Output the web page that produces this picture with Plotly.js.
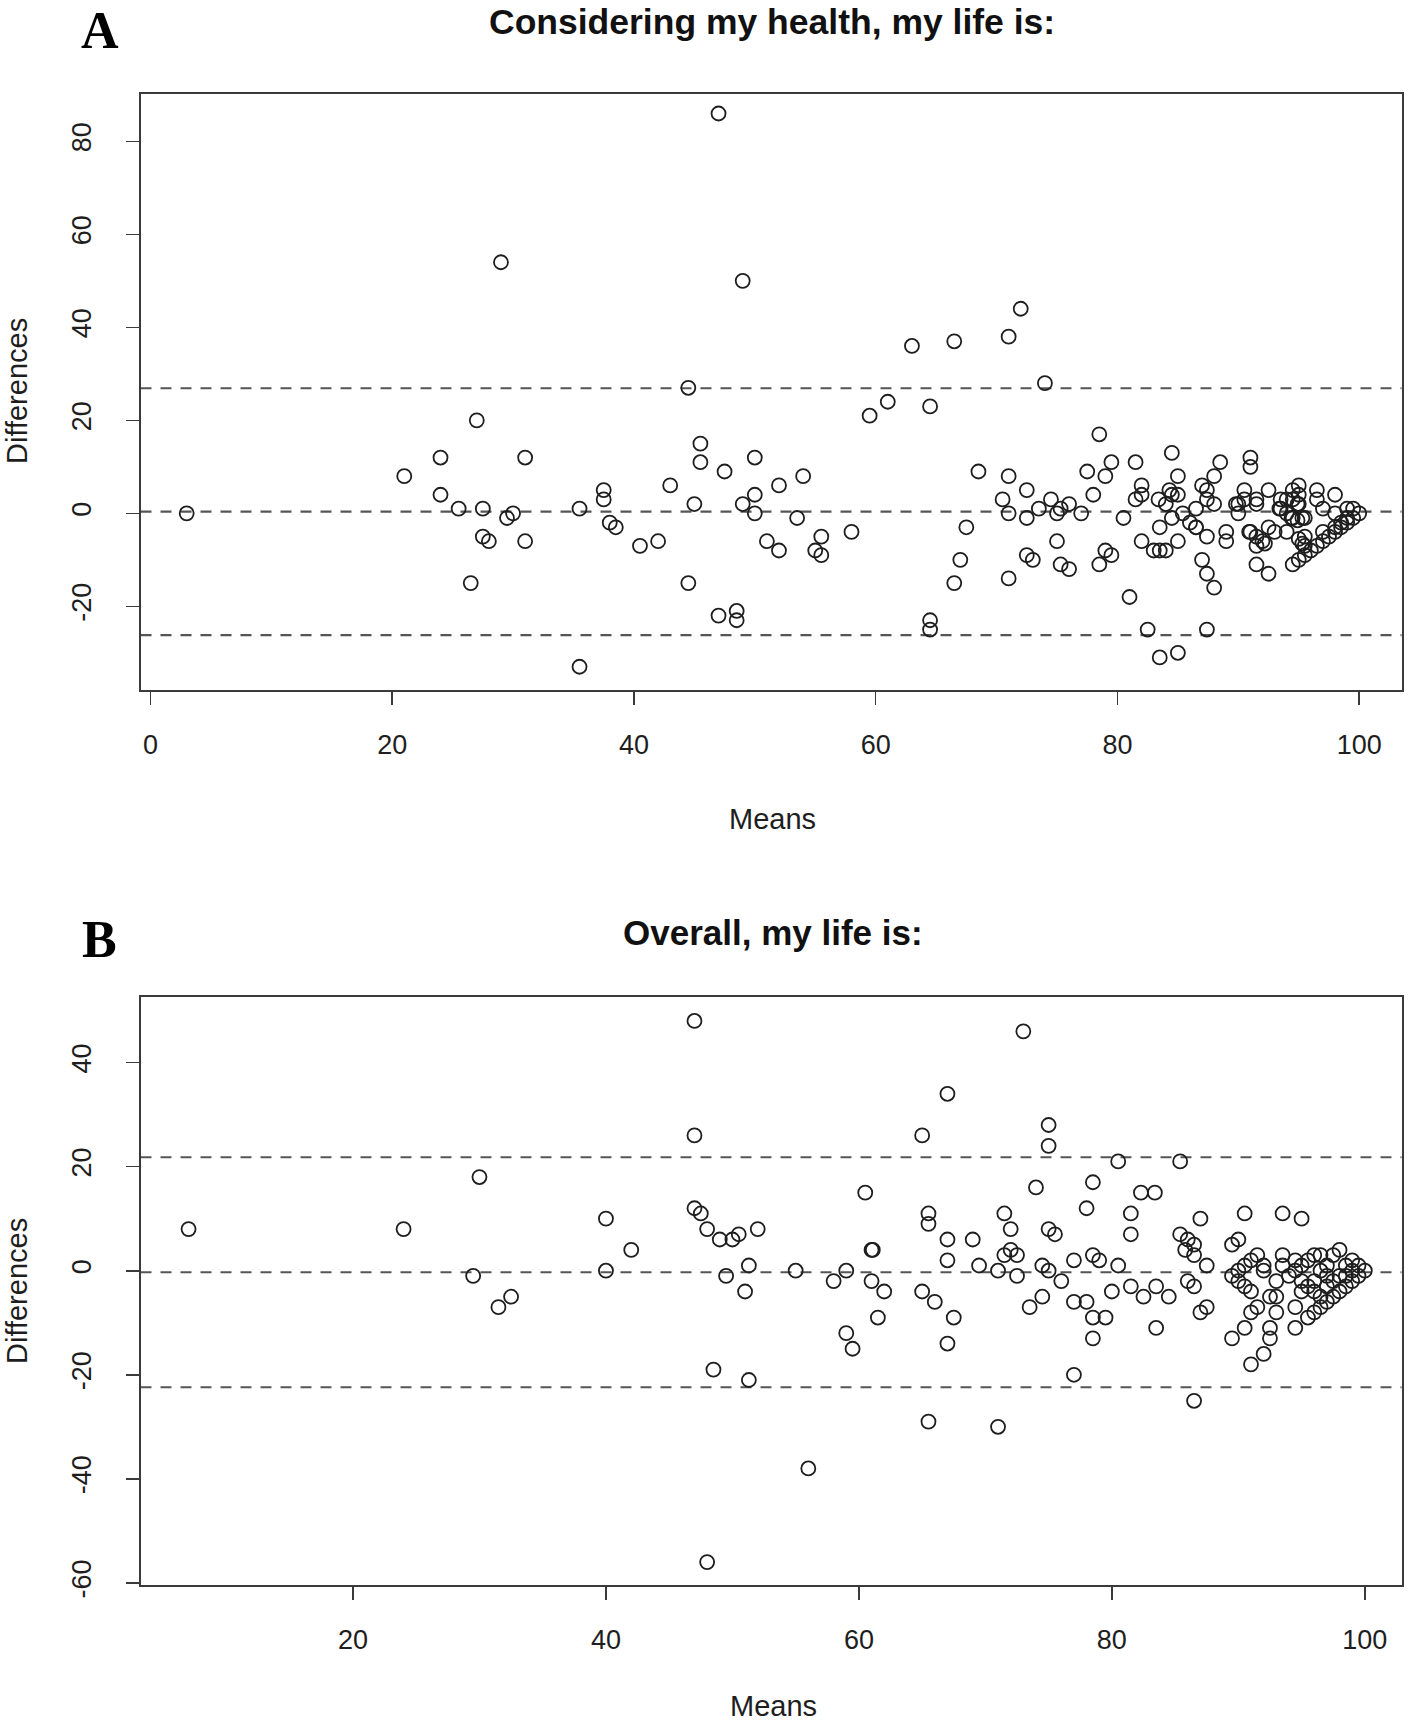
<!DOCTYPE html>
<html>
<head>
<meta charset="utf-8">
<script src="https://cdn.plot.ly/plotly-3.0.1.min.js"></script>
<style>html,body{margin:0;padding:0;background:#fff;}#chart{width:1418px;height:1724px;}</style>
</head>
<body>
<div id="chart"></div>
<script>
// ---------- Panel A: "Considering my health, my life is:" ----------
const meansA = [
  3, 29, 27, 24, 31, 21, 24, 25.5, 27.5, 30, 29.5, 27.5, 28, 31, 26.5, 35.5, 35.5, 37.5, 37.5, 38, 38.5,
  40.5, 42, 43, 44.5, 45, 44.5, 45.5, 45.5, 47, 47.5, 47, 48.5, 48.5, 49, 49, 50, 50, 50, 51, 52, 52,
  53.5, 54, 55, 55.5, 55.5, 58, 59.5, 61, 63, 64.5, 64.5, 64.5, 66.5, 66.5, 67, 67.5, 68.5, 71, 72,
  71, 70.5, 71, 71,
  74, 78.5, 72.5, 72.5, 73.5, 74.5, 75, 75.3, 76, 77, 75, 72.5, 73, 75.3, 76, 77.5, 78, 79, 79.5,
  78.5, 79, 79.5, 80.5, 81.5, 81, 82, 81.5, 82, 82, 82.5, 83, 83.4, 83.5, 83.5, 84, 84, 84.5, 84.5,
  85, 84.5, 85, 85, 85, 85.4, 86.5, 86.5, 87, 87, 87.4, 87.4, 87.4, 87.4, 87.4, 88, 88, 88, 88.5,
  89, 89, 90, 90, 90.5, 91, 91, 91, 91.5, 92, 91.5, 91.5, 91.5, 92.5, 92.5, 92.5, 93, 93.5, 93.5,
  94, 94, 94.5, 94.5, 95, 95, 95, 94.5, 95, 95.5, 94.5, 95.5, 95.5, 95.5, 96.5, 96.5, 96.5, 97,
  97.5, 98, 98, 98, 98.5, 99, 99, 99.5, 99.5, 100, 96, 97, 98, 98.5, 99,
  84.3, 89.8, 90.5, 91.5, 94, 94.9, 93.4, 94.4, 94.9, 95.3, 86.5, 90.9, 92.2, 95, 95.3, 83.5, 86, 97
];
const diffsA = [
  0, 54, 20, 12, 12, 8, 4, 1, 1, 0, -1, -5, -6, -6, -15, 1, -33, 5, 3, -2, -3,
  -7, -6, 6, 27, 2, -15, 15, 11, 86, 9, -22, -21, -23, 50, 2, 12, 4, 0, -6, 6, -8,
  -1, 8, -8, -5, -9, -4, 21, 24, 36, 23, -23, -25, 37, -15, -10, -3, 9, 38, 44,
  8, 3, 0, -14,
  28, 17, 5, -1, 1, 3, 0, 1, 2, 0, -6, -9, -10, -11, -12, 9, 4, 8, 11,
  -11, -8, -9, -1, 11, -18, 6, 3, 4, -6, -25, -8, 3, -3, -31, -8, 2, 13, 4,
  4, -1, 8, -6, -30, 0, 1, -3, 6, -10, 5, 3, -5, -13, -25, 8, 2, -16, 11,
  -4, -6, 2, 0, 5, 12, 10, -4, -5, -6, -7, 2, -11, -13, 5, -3, -4, 3, 1,
  0, -4, 5, 3, 6, 4, 2, -11, -10, -9, -1, -1, -5, -7, 5, 3, -7, -4,
  -5, 4, 0, -3, -2, 1, -1, 1, -1, 0, -8, -6, -4, -3, -2,
  5, 2, 3, 3, 3, 2, 1, -1, -1.5, -1, -3, -4, -6.5, -5.5, -6.5, -8, -2, 1
];
const meanDiffA = 0.35;
const limitsA = [26.9, -26.2];
const xTicksA = [0, 20, 40, 60, 80, 100];
const yTicksA = [-20, 0, 20, 40, 60, 80];

// ---------- Panel B: "Overall, my life is:" ----------
const meansB = [
  7, 24, 30, 29.5, 31.5, 32.5, 40, 40, 42, 47, 47, 47, 47.5, 48, 48.5, 48, 49, 49.5, 50, 50.5, 51, 51.3, 51.3,
  52, 55, 56, 58, 59, 59, 59.5, 60.5, 61, 61.1, 61, 62, 61.5, 65, 65.5, 65.5, 65, 66, 65.5, 67, 67, 67,
  67.5, 67, 69, 69.5, 71, 71, 71.5, 72, 71.5, 72, 72.5, 72.5, 73, 73.5, 74, 74.5, 75, 74.5, 75, 75, 75,
  75.5, 76, 77, 77, 77, 78, 78, 78.5, 78.5, 79, 78.5, 79.5, 78.5, 80, 80.5, 80.5, 81.5, 81.5, 81.5, 82.3,
  83.4, 87, 90.5, 93.5, 95, 85.4, 86, 86.5, 85.8, 86.5, 87.5, 89.5, 90, 82.5, 83.5, 84.5, 83.5, 86, 86.5,
  87, 87.5, 86.5, 85.4,
  89.5, 90.5, 91, 92, 92.5, 92.5, 93, 93, 93.5, 93.5, 93, 92.5, 91.5, 91, 94.5, 94.5, 94.5, 95, 95.5, 96,
  96.5, 97, 97.5, 98, 98.5, 99, 99.5, 100, 98, 97.5, 96.5, 99, 99.5, 95, 95.5, 96, 95, 95.5, 96, 97, 97.5,
  98, 90, 90.5, 91, 91.5, 90, 90.5, 91, 92, 92, 89.5, 96.5, 97, 98.5, 98.5, 96, 96.5, 97, 94, 94.5, 99
];
const diffsB = [
  8, 8, 18, -1, -7, -5, 10, 0, 4, 48, 26, 12, 11, 8, -19, -56, 6, -1, 6, 7, -4, 1, -21,
  8, 0, -38, -2, 0, -12, -15, 15, 4, 4, -2, -4, -9, 26, 11, 9, -4, -6, -29, 34, 6, 2,
  -9, -14, 6, 1, 0, -30, 11, 8, 3, 4, 3, -1, 46, -7, 16, 1, 0, -5, 28, 24, 8,
  7, -2, 2, -6, -20, 12, -6, 17, 3, 2, -9, -9, -13, -4, 21, 1, 11, 7, -3, 15,
  15, 10, 11, 11, 10, 7, 6, 5, 4, 3, 1, 5, 6, -5, -3, -5, -11, -2, -3,
  -8, -7, -25, 21,
  -13, -11, -18, -16, -11, -13, -8, -2, 3, 1, -5, -5, -7, -8, -7, -11, 0, -2, -9, -8,
  -7, -6, -5, -4, -3, -2, -1, 0, 4, 3, 3, 2, 1, 1, 2, 3, -4, -3, -2, -1, -2,
  -1, 0, 1, 2, 3, -2, -3, -4, 1, 0, -1, 0, 1, 1, -1, -4, -5, -3, -1, 2, 0
];
const meanDiffB = -0.3;
const limitsB = [21.8, -22.4];
const xTicksB = [20, 40, 60, 80, 100];
const yTicksB = [-60, -40, -20, 0, 20, 40];

// ---------- helpers (pixel -> paper) ----------
const W = 1418, H = 1724;
const px = v => v / W;
const py = v => 1 - v / H;

const sans = 'Liberation Sans, Arial, Helvetica, sans-serif';
const serif = 'Liberation Serif, Times New Roman, serif';
const ink = '#1e1e1e';

const marker = {symbol: 'circle-open', size: 14, color: ink, line: {width: 1.8, color: ink}};

const traces = [
  {type: 'scatter', mode: 'markers', x: meansA, y: diffsA, xaxis: 'x', yaxis: 'y', marker: marker, showlegend: false, hoverinfo: 'x+y'},
  {type: 'scatter', mode: 'markers', x: meansB, y: diffsB, xaxis: 'x2', yaxis: 'y2', marker: marker, showlegend: false, hoverinfo: 'x+y'}
];

function hline(yv, xr, yr) {
  return {type: 'line', xref: xr + ' domain', yref: yr, x0: 0, x1: 1, y0: yv, y1: yv,
          line: {color: '#555', width: 2.2, dash: '11px,9px'}, layer: 'below'};
}
const shapes = [
  hline(meanDiffA, 'x', 'y'), hline(limitsA[0], 'x', 'y'), hline(limitsA[1], 'x', 'y'),
  hline(meanDiffB, 'x2', 'y2'), hline(limitsB[0], 'x2', 'y2'), hline(limitsB[1], 'x2', 'y2')
];

const axisCommon = {
  showgrid: false, zeroline: false, showline: true, mirror: true,
  linecolor: '#3a3a3a', linewidth: 2,
  ticks: 'outside', ticklen: 13, tickwidth: 1.6, tickcolor: '#3a3a3a',
  tickfont: {family: sans, size: 27, color: ink}
};
const xDom = [px(140.5), px(1401.5)];

const layout = {
  width: W, height: H,
  margin: {l: 0, r: 0, t: 0, b: 0},
  paper_bgcolor: '#fff', plot_bgcolor: '#fff',
  showlegend: false,
  xaxis: Object.assign({}, axisCommon, {domain: xDom, anchor: 'y', range: [-0.82, 103.5], tickmode: 'array', tickvals: xTicksA, ticktext: xTicksA.map(String), ticklabelstandoff: 17}),
  yaxis: Object.assign({}, axisCommon, {domain: [py(690), py(93.5)], anchor: 'x', range: [-38, 90.3], tickmode: 'array', tickvals: yTicksA, ticktext: yTicksA.map(String), tickangle: -90, ticklabelstandoff: 24}),
  xaxis2: Object.assign({}, axisCommon, {domain: xDom, anchor: 'y2', range: [3.2, 102.9], tickmode: 'array', tickvals: xTicksB, ticktext: xTicksB.map(String), ticklabelstandoff: 17}),
  yaxis2: Object.assign({}, axisCommon, {domain: [py(1585), py(997)], anchor: 'x2', range: [-60.4, 52.6], tickmode: 'array', tickvals: yTicksB, ticktext: yTicksB.map(String), tickangle: -90, ticklabelstandoff: 24}),
  shapes: shapes,
  annotations: [
    {text: '<b>A</b>', x: px(100), y: py(30), xref: 'paper', yref: 'paper', showarrow: false, xanchor: 'center', yanchor: 'middle', font: {family: serif, size: 52, color: '#000'}},
    {text: '<b>Considering my health, my life is:</b>', x: px(772), y: py(22), xref: 'paper', yref: 'paper', showarrow: false, xanchor: 'center', yanchor: 'middle', font: {family: sans, size: 35.5, color: '#111'}},
    {text: 'Means', x: px(772), y: py(819), xref: 'paper', yref: 'paper', showarrow: false, xanchor: 'center', yanchor: 'middle', font: {family: sans, size: 29, color: ink}},
    {text: 'Differences', x: px(17), y: py(391), xref: 'paper', yref: 'paper', showarrow: false, textangle: -90, xanchor: 'center', yanchor: 'middle', font: {family: sans, size: 29, color: ink}},
    {text: '<b>B</b>', x: px(99), y: py(940), xref: 'paper', yref: 'paper', showarrow: false, xanchor: 'center', yanchor: 'middle', font: {family: serif, size: 52, color: '#000'}},
    {text: '<b>Overall, my life is:</b>', x: px(773), y: py(932), xref: 'paper', yref: 'paper', showarrow: false, xanchor: 'center', yanchor: 'middle', font: {family: sans, size: 35, color: '#111'}},
    {text: 'Means', x: px(773), y: py(1706), xref: 'paper', yref: 'paper', showarrow: false, xanchor: 'center', yanchor: 'middle', font: {family: sans, size: 29, color: ink}},
    {text: 'Differences', x: px(17), y: py(1291), xref: 'paper', yref: 'paper', showarrow: false, textangle: -90, xanchor: 'center', yanchor: 'middle', font: {family: sans, size: 29, color: ink}}
  ]
};

Plotly.newPlot('chart', traces, layout, {staticPlot: true, displayModeBar: false});
</script>
</body>
</html>
